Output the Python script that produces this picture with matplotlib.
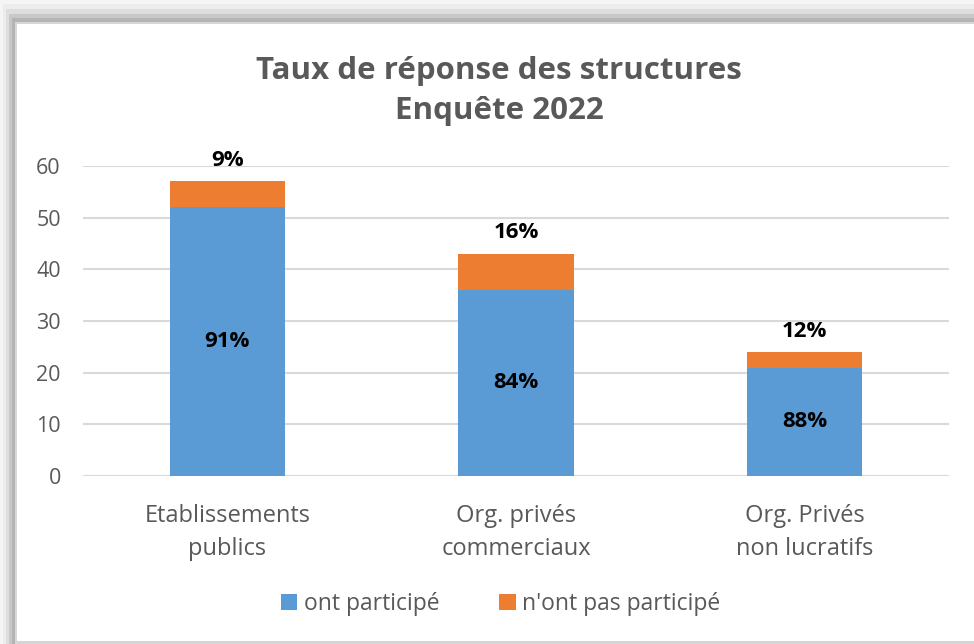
import numpy as np
import matplotlib.pyplot as plt
from matplotlib.patches import Rectangle

# ------------------------------------------------------------
# Data
# ------------------------------------------------------------
categories = ["Etablissements\npublics", "Org. privés\ncommerciaux", "Org. Privés\nnon lucratifs"]
participe = [52, 36, 21]
non_participe = [5, 7, 3]
pct_participe = ["91%", "84%", "88%"]
pct_non_participe = ["9%", "16%", "12%"]

W, H = 974, 644
plt.rcParams['font.family'] = ['Open Sans', 'DejaVu Sans']

fig = plt.figure(figsize=(W / 100, H / 100), dpi=100)
fig.patch.set_facecolor("#f5f5f5")


def px_rect(x, y, w, h, color):
    fig.add_artist(Rectangle((x / W, 1 - (y + h) / H), w / W, h / H,
                             transform=fig.transFigure, color=color, lw=0, zorder=-10))


# shadow frame
px_rect(3, 4, W, H, "#ececec")
px_rect(6, 9, W, H, "#dedede")
px_rect(9, 14, W, H, "#c8c8c8")
px_rect(12, 18, W, H, "#b4b4b4")
px_rect(15, 22, W, H, "#d6d6d6")
px_rect(17, 24, W, 617, "white")

# ------------------------------------------------------------
# Axes
# ------------------------------------------------------------
ax = fig.add_axes([83 / W, 1 - 476 / H, (949 - 83) / W, 310 / H])
ax.set_facecolor("none")

x = np.arange(len(categories))
blue = "#5B9BD5"
orange = "#ED7D31"
width = 0.4

ax.bar(x, participe, width, color=blue, label="ont participé", zorder=3)
ax.bar(x, non_participe, width, bottom=participe, color=orange,
       label="n'ont pas participé", zorder=3)

for i in range(len(categories)):
    ax.text(x[i], participe[i] / 2, pct_participe[i], ha="center", va="center",
            fontsize=16, fontweight="bold", color="black", zorder=4)
    ax.text(x[i], participe[i] + non_participe[i] + 2.0, pct_non_participe[i],
            ha="center", va="bottom", fontsize=16, fontweight="bold", color="black")

ax.set_xlim(-0.5, 2.5)
ax.set_ylim(0, 60)
ax.set_yticks(range(0, 61, 10))
ax.yaxis.grid(True, color="#d9d9d9", lw=1.5, zorder=0)
ax.set_xticks(x)
ax.set_xticklabels(categories, fontsize=17, color="#595959", linespacing=1.5)
ax.tick_params(axis="y", labelsize=15.5, labelcolor="#595959", length=0, pad=16)
ax.tick_params(axis="x", length=0, pad=20)
for s in ax.spines.values():
    s.set_visible(False)

fig.text(499 / W, 1 - 91 / H, "Taux de réponse des structures\nEnquête 2022",
         ha="center", va="center", fontsize=22.5, fontweight="bold",
         color="#595959", linespacing=1.4)

fig.legend(loc="center", bbox_to_anchor=(501 / W, 1 - 604 / H), ncol=2,
           frameon=False, fontsize=16.5, labelcolor="#595959",
           handlelength=0.7, handleheight=0.7, handletextpad=0.3, columnspacing=2.6)

fig.savefig("out.png", dpi=100)
